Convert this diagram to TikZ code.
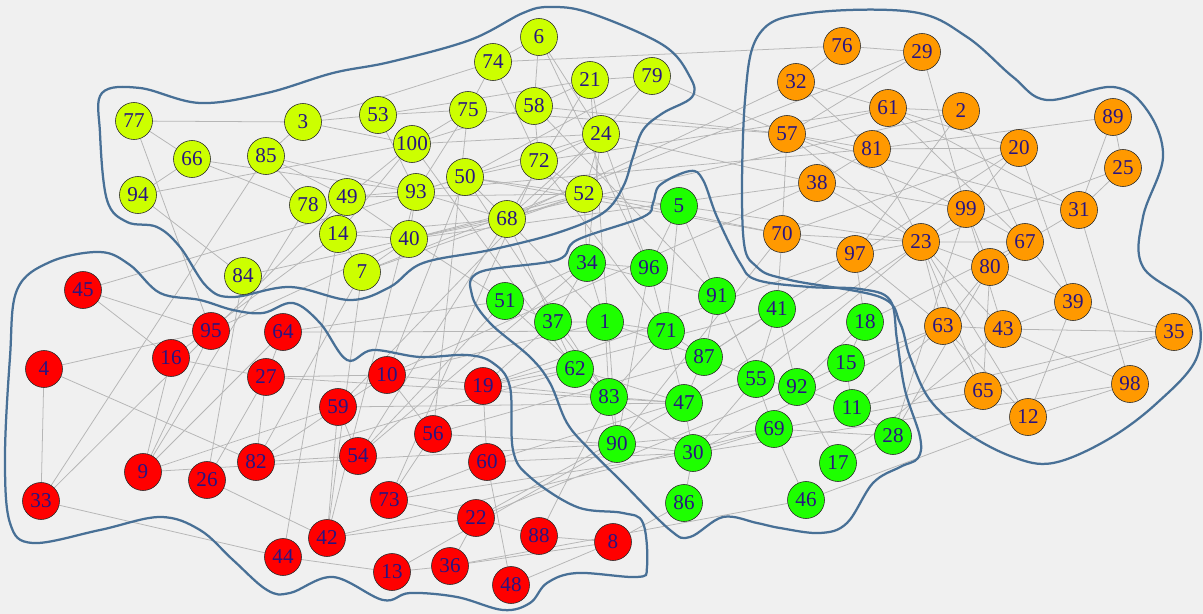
\documentclass[tikz,border=0pt]{standalone}
\usepackage{fontspec}
\setmainfont{Liberation Serif}
\usepackage{tikz}
\usetikzlibrary{backgrounds}

\definecolor{bgGray}{RGB}{240,240,240}
\definecolor{edgeGray}{RGB}{182,182,182}
\definecolor{hullBlue}{RGB}{72,112,150}
\definecolor{numBlue}{RGB}{40,20,130}
\definecolor{cYel}{RGB}{204,255,0}
\definecolor{cGrn}{RGB}{30,255,0}
\definecolor{cRed}{RGB}{255,0,0}
\definecolor{cOrg}{RGB}{255,153,0}

\pgfdeclarelayer{back}
\pgfdeclarelayer{mid}
\pgfsetlayers{back,mid,main}

\begin{document}
\begin{tikzpicture}[
x=0.05cm, y=-0.05cm, % one unit = one pixel of the reference
every node/.style={circle, draw=black!85, line width=0.8pt, minimum size=1.85cm,
  inner sep=0pt, text=numBlue, font=\fontsize{30}{30}\selectfont},
yel/.style={fill=cYel},
grn/.style={fill=cGrn},
rd/.style={fill=cRed},
org/.style={fill=cOrg},
edge/.style={draw=edgeGray, line width=1.1pt},
hull/.style={draw=hullBlue, line width=3.2pt}
]

% ================= Canvas =================
\begin{pgfonlayer}{back}
\fill[bgGray] (0,0) rectangle (1203,614);
\end{pgfonlayer}
\useasboundingbox (0,0) rectangle (1203,614);

% ================= Nodes =================

% Yellow group (upper left)
\node[yel] (n77) at (134,121) {77};
\node[yel] (n3) at (303,122) {3};
\node[yel] (n53) at (378,115) {53};
\node[yel] (n100) at (412,144) {100};
\node[yel] (n66) at (192,159) {66};
\node[yel] (n85) at (266,156) {85};
\node[yel] (n94) at (138,195) {94};
\node[yel] (n78) at (308,205) {78};
\node[yel] (n49) at (347,197) {49};
\node[yel] (n93) at (416,192) {93};
\node[yel] (n14) at (338,234) {14};
\node[yel] (n40) at (409,239) {40};
\node[yel] (n7) at (362,272) {7};
\node[yel] (n84) at (243,276) {84};
\node[yel] (n74) at (493,62) {74};
\node[yel] (n6) at (539,37) {6};
\node[yel] (n21) at (590,80) {21};
\node[yel] (n79) at (652,76) {79};
\node[yel] (n75) at (468,110) {75};
\node[yel] (n58) at (534,106) {58};
\node[yel] (n24) at (601,134) {24};
\node[yel] (n50) at (465,177) {50};
\node[yel] (n72) at (539,161) {72};
\node[yel] (n52) at (584,194) {52};
\node[yel] (n68) at (507,219) {68};

% Orange group (upper right)
\node[org] (n76) at (842,46) {76};
\node[org] (n29) at (922,52) {29};
\node[org] (n32) at (796,82) {32};
\node[org] (n61) at (888,108) {61};
\node[org] (n2) at (961,111) {2};
\node[org] (n89) at (1113,117) {89};
\node[org] (n57) at (787,134) {57};
\node[org] (n81) at (872,149) {81};
\node[org] (n20) at (1019,148) {20};
\node[org] (n25) at (1123,168) {25};
\node[org] (n38) at (817,183) {38};
\node[org] (n99) at (966,209) {99};
\node[org] (n31) at (1079,210) {31};
\node[org] (n70) at (782,234) {70};
\node[org] (n23) at (921,242) {23};
\node[org] (n67) at (1025,242) {67};
\node[org] (n97) at (855,254) {97};
\node[org] (n80) at (990,267) {80};
\node[org] (n39) at (1073,302) {39};
\node[org] (n63) at (943,326) {63};
\node[org] (n43) at (1003,329) {43};
\node[org] (n35) at (1174,332) {35};
\node[org] (n98) at (1130,384) {98};
\node[org] (n65) at (983,391) {65};
\node[org] (n12) at (1028,417) {12};

% Green group (centre)
\node[grn] (n5) at (679,206) {5};
\node[grn] (n34) at (587,263) {34};
\node[grn] (n96) at (649,268) {96};
\node[grn] (n51) at (505,301) {51};
\node[grn] (n91) at (717,296) {91};
\node[grn] (n41) at (777,309) {41};
\node[grn] (n37) at (553,322) {37};
\node[grn] (n1) at (605,322) {1};
\node[grn] (n71) at (666,331) {71};
\node[grn] (n18) at (865,322) {18};
\node[grn] (n87) at (704,357) {87};
\node[grn] (n62) at (575,369) {62};
\node[grn] (n15) at (846,363) {15};
\node[grn] (n55) at (756,379) {55};
\node[grn] (n92) at (797,387) {92};
\node[grn] (n83) at (609,397) {83};
\node[grn] (n47) at (684,403) {47};
\node[grn] (n11) at (852,408) {11};
\node[grn] (n69) at (774,429) {69};
\node[grn] (n28) at (893,436) {28};
\node[grn] (n90) at (617,444) {90};
\node[grn] (n30) at (693,453) {30};
\node[grn] (n17) at (838,463) {17};
\node[grn] (n46) at (806,500) {46};
\node[grn] (n86) at (684,503) {86};

% Red group (lower left)
\node[rd] (n45) at (83,290) {45};
\node[rd] (n95) at (211,331) {95};
\node[rd] (n64) at (283,332) {64};
\node[rd] (n4) at (44,369) {4};
\node[rd] (n16) at (171,358) {16};
\node[rd] (n27) at (266,377) {27};
\node[rd] (n10) at (387,375) {10};
\node[rd] (n19) at (483,386) {19};
\node[rd] (n59) at (338,407) {59};
\node[rd] (n56) at (433,434) {56};
\node[rd] (n54) at (358,456) {54};
\node[rd] (n82) at (256,462) {82};
\node[rd] (n60) at (487,462) {60};
\node[rd] (n9) at (143,472) {9};
\node[rd] (n26) at (207,480) {26};
\node[rd] (n33) at (41,501) {33};
\node[rd] (n73) at (389,500) {73};
\node[rd] (n22) at (476,518) {22};
\node[rd] (n88) at (539,536) {88};
\node[rd] (n42) at (327,538) {42};
\node[rd] (n8) at (613,542) {8};
\node[rd] (n44) at (283,557) {44};
\node[rd] (n36) at (450,566) {36};
\node[rd] (n13) at (392,572) {13};
\node[rd] (n48) at (511,585) {48};

% ================= Edges =================
\begin{pgfonlayer}{back}

% Yellow internal
\draw[edge] (n77) -- (n3) (n77) -- (n66) (n77) -- (n95);
\draw[edge] (n66) -- (n78) (n66) -- (n93) (n66) -- (n94);
\draw[edge] (n85) -- (n3) (n85) -- (n78) (n85) -- (n33) (n85) -- (n93) (n85) -- (n49);
\draw[edge] (n94) -- (n84) (n94) -- (n100);
\draw[edge] (n3) -- (n53) (n3) -- (n100) (n3) -- (n74);
\draw[edge] (n53) -- (n93) (n53) -- (n75) (n53) -- (n21);
\draw[edge] (n100) -- (n75) (n100) -- (n49) (n100) -- (n58) (n100) -- (n24) (n100) -- (n14);
\draw[edge] (n93) -- (n75) (n93) -- (n50) (n93) -- (n40) (n93) -- (n68) (n93) -- (n24);
\draw[edge] (n49) -- (n78) (n49) -- (n14) (n49) -- (n40) (n49) -- (n52);
\draw[edge] (n14) -- (n40) (n14) -- (n7) (n14) -- (n68);
\draw[edge] (n40) -- (n7) (n40) -- (n68) (n40) -- (n52) (n40) -- (n84);
\draw[edge] (n7) -- (n52);
\draw[edge] (n74) -- (n6) (n74) -- (n75) (n74) -- (n72) (n74) -- (n76);
\draw[edge] (n6) -- (n58) (n6) -- (n24);
\draw[edge] (n21) -- (n58) (n21) -- (n79) (n21) -- (n24) (n21) -- (n68);
\draw[edge] (n79) -- (n24) (n79) -- (n57) (n79) -- (n50);
\draw[edge] (n58) -- (n57) (n58) -- (n72);
\draw[edge] (n24) -- (n52) (n24) -- (n72) (n24) -- (n96) (n24) -- (n38) (n24) -- (n68);
\draw[edge] (n72) -- (n52) (n72) -- (n50);
\draw[edge] (n50) -- (n68) (n50) -- (n52) (n50) -- (n70);
\draw[edge] (n68) -- (n52);

% Orange internal
\draw[edge] (n76) -- (n29) (n76) -- (n32);
\draw[edge] (n29) -- (n57) (n29) -- (n99);
\draw[edge] (n32) -- (n61) (n32) -- (n81);
\draw[edge] (n61) -- (n2) (n61) -- (n57) (n61) -- (n20) (n61) -- (n31) (n61) -- (n67);
\draw[edge] (n2) -- (n97) (n2) -- (n67);
\draw[edge] (n57) -- (n81) (n57) -- (n70) (n57) -- (n23) (n57) -- (n31) (n57) -- (n99);
\draw[edge] (n81) -- (n89) (n81) -- (n20) (n81) -- (n23) (n81) -- (n38);
\draw[edge] (n89) -- (n25) (n89) -- (n31);
\draw[edge] (n25) -- (n31) (n25) -- (n23);
\draw[edge] (n20) -- (n39) (n20) -- (n70) (n20) -- (n99);
\draw[edge] (n38) -- (n99) (n38) -- (n23);
\draw[edge] (n99) -- (n23) (n99) -- (n67) (n99) -- (n80) (n99) -- (n43);
\draw[edge] (n31) -- (n67) (n31) -- (n98);
\draw[edge] (n70) -- (n23) (n70) -- (n97);
\draw[edge] (n97) -- (n23) (n97) -- (n63);
\draw[edge] (n23) -- (n80) (n23) -- (n67) (n23) -- (n63) (n23) -- (n65) (n23) -- (n12) (n23) -- (n43);
\draw[edge] (n67) -- (n39) (n67) -- (n80);
\draw[edge] (n80) -- (n39) (n80) -- (n63) (n80) -- (n65);
\draw[edge] (n39) -- (n43) (n39) -- (n35) (n39) -- (n12);
\draw[edge] (n63) -- (n43) (n63) -- (n65) (n63) -- (n12);
\draw[edge] (n43) -- (n35) (n43) -- (n98);
\draw[edge] (n65) -- (n35);
\draw[edge] (n12) -- (n98);

% Green internal
\draw[edge] (n5) -- (n91) (n5) -- (n96) (n5) -- (n71);
\draw[edge] (n34) -- (n51) (n34) -- (n37) (n34) -- (n1) (n34) -- (n96) (n34) -- (n91);
\draw[edge] (n96) -- (n71) (n96) -- (n90);
\draw[edge] (n51) -- (n37) (n51) -- (n83);
\draw[edge] (n37) -- (n1) (n37) -- (n62) (n37) -- (n83);
\draw[edge] (n1) -- (n83) (n1) -- (n71) (n1) -- (n87);
\draw[edge] (n71) -- (n87) (n71) -- (n47) (n71) -- (n83);
\draw[edge] (n91) -- (n87) (n91) -- (n55);
\draw[edge] (n41) -- (n55) (n41) -- (n92) (n41) -- (n87);
\draw[edge] (n87) -- (n47) (n87) -- (n55);
\draw[edge] (n62) -- (n83) (n62) -- (n47);
\draw[edge] (n55) -- (n92) (n55) -- (n69) (n55) -- (n30);
\draw[edge] (n92) -- (n11) (n92) -- (n17) (n92) -- (n18);
\draw[edge] (n83) -- (n90) (n83) -- (n47) (n83) -- (n30);
\draw[edge] (n47) -- (n30);
\draw[edge] (n69) -- (n46) (n69) -- (n28) (n69) -- (n90);
\draw[edge] (n90) -- (n30);
\draw[edge] (n30) -- (n86) (n30) -- (n69);
\draw[edge] (n18) -- (n15) (n15) -- (n11) (n15) -- (n92);
\draw[edge] (n11) -- (n28) (n17) -- (n28);

% Red internal
\draw[edge] (n45) -- (n95) (n45) -- (n16);
\draw[edge] (n95) -- (n4) (n95) -- (n9);
\draw[edge] (n64) -- (n27) (n64) -- (n9);
\draw[edge] (n4) -- (n33) (n4) -- (n82);
\draw[edge] (n16) -- (n9) (n16) -- (n27);
\draw[edge] (n27) -- (n82) (n27) -- (n26) (n27) -- (n10);
\draw[edge] (n10) -- (n59) (n10) -- (n56);
\draw[edge] (n59) -- (n54) (n59) -- (n9) (n59) -- (n42) (n59) -- (n82);
\draw[edge] (n82) -- (n54);
\draw[edge] (n26) -- (n42);
\draw[edge] (n33) -- (n44);
\draw[edge] (n73) -- (n56) (n73) -- (n22);
\draw[edge] (n44) -- (n13);
\draw[edge] (n13) -- (n36);
\draw[edge] (n36) -- (n22) (n36) -- (n8);
\draw[edge] (n48) -- (n60) (n48) -- (n8);
\draw[edge] (n88) -- (n22) (n88) -- (n8);
\draw[edge] (n60) -- (n19) (n60) -- (n73);
\draw[edge] (n22) -- (n42);

% Between groups
\draw[edge] (n45) -- (n93) (n84) -- (n26) (n14) -- (n44) (n7) -- (n42);
\draw[edge] (n95) -- (n40) (n64) -- (n51) (n16) -- (n14) (n9) -- (n78);
\draw[edge] (n33) -- (n49) (n82) -- (n7) (n54) -- (n68) (n59) -- (n24);
\draw[edge] (n10) -- (n50) (n56) -- (n75) (n73) -- (n72) (n42) -- (n93);
\draw[edge] (n88) -- (n83) (n8) -- (n86) (n19) -- (n37) (n19) -- (n62);
\draw[edge] (n10) -- (n83) (n10) -- (n1) (n27) -- (n47) (n64) -- (n71);
\draw[edge] (n59) -- (n47) (n56) -- (n90) (n56) -- (n87) (n82) -- (n62);
\draw[edge] (n9) -- (n90) (n54) -- (n34) (n54) -- (n51) (n73) -- (n30);
\draw[edge] (n42) -- (n69) (n22) -- (n92) (n22) -- (n47) (n60) -- (n30);
\draw[edge] (n60) -- (n55) (n13) -- (n90) (n36) -- (n46) (n19) -- (n41);
\draw[edge] (n51) -- (n40) (n37) -- (n68) (n34) -- (n24) (n34) -- (n52);
\draw[edge] (n5) -- (n52) (n96) -- (n6) (n1) -- (n68) (n71) -- (n72);
\draw[edge] (n90) -- (n21) (n83) -- (n50) (n62) -- (n100) (n91) -- (n58);
\draw[edge] (n70) -- (n90) (n70) -- (n41) (n97) -- (n18) (n23) -- (n47);
\draw[edge] (n23) -- (n55) (n63) -- (n11) (n63) -- (n15) (n63) -- (n30);
\draw[edge] (n65) -- (n69) (n12) -- (n46) (n80) -- (n28) (n43) -- (n17);
\draw[edge] (n35) -- (n11) (n67) -- (n18) (n99) -- (n28) (n20) -- (n87);
\draw[edge] (n57) -- (n75) (n32) -- (n68) (n70) -- (n52) (n38) -- (n40);
\draw[edge] (n61) -- (n72) (n81) -- (n49) (n29) -- (n7) (n2) -- (n40);
\draw[edge] (n97) -- (n19) (n38) -- (n10) (n5) -- (n23) (n98) -- (n30);
\end{pgfonlayer}

% ================= Group outlines =================
\begin{pgfonlayer}{mid}
\draw[hull] plot[smooth cycle, tension=0.6] coordinates {
  (102,93) (140,88) (200,103) (267,93) (333,73) (390,62) (470,40) (523,13)
  (550,7) (590,13) (663,45) (690,77) (692,97) (663,113) (643,130) (633,157)
  (623,187) (603,213) (557,233) (490,250) (423,263) (390,287) (350,300)
  (290,287) (233,297) (207,287) (180,247) (157,227) (127,222) (107,200) (100,133)};
\draw[hull] plot[smooth cycle, tension=0.6] coordinates {
  (17,290) (50,262) (100,252) (130,265) (160,293) (200,300) (233,310) (263,313)
  (293,303) (320,323) (347,360) (373,350) (420,357) (467,355) (493,363) (510,387)
  (513,450) (530,477) (577,507) (623,513) (643,523) (647,567) (637,577) (577,573)
  (547,583) (530,603) (503,610) (457,597) (410,593) (383,600) (333,577) (290,593)
  (267,590) (233,560) (200,530) (160,517) (100,530) (33,543) (10,523) (5,457) (10,357)};
\draw[hull] plot[smooth cycle, tension=0.6] coordinates {
  (690,171) (703,180) (717,217) (740,263) (757,280) (810,287) (860,289) (890,300)
  (897,340) (905,390) (920,437) (918,458) (900,467) (873,483) (847,523) (820,533)
  (780,528) (757,523) (723,517) (690,537) (670,530) (623,483) (590,450) (567,423)
  (550,383) (530,357) (490,323) (472,295) (480,272) (557,260) (577,240) (643,217)
  (653,203) (660,185)};
\draw[hull] plot[smooth cycle, tension=0.6] coordinates {
  (745,100) (760,33) (810,13) (913,12) (967,37) (1013,77) (1047,100) (1113,87)
  (1147,110) (1163,157) (1143,217) (1143,267) (1193,307) (1197,357) (1157,403)
  (1107,440) (1053,463) (1013,457) (967,433) (930,400) (910,357) (900,323)
  (880,297) (790,280) (757,267) (743,233)};
\end{pgfonlayer}

\end{tikzpicture}
\end{document}
